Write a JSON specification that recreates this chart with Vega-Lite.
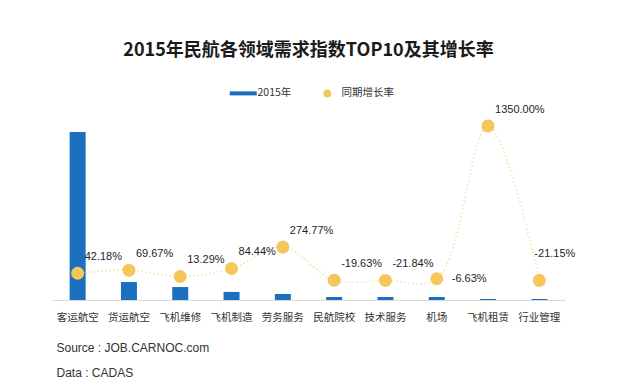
{
  "$schema": "https://vega.github.io/schema/vega-lite/v6.json",
  "width": 513,
  "height": 180,
  "autosize": {"type": "none"},
  "padding": {"left": 52, "top": 120, "right": 75, "bottom": 83},
  "background": "white",
  "title": {
    "text": "2015年民航各领域需求指数TOP10及其增长率",
    "font": "Noto Sans CJK SC",
    "fontSize": 18,
    "fontWeight": "bold",
    "color": "#1a1a1a",
    "anchor": "middle",
    "offset": 28
  },
  "config": {
    "view": {"stroke": null},
    "font": "Liberation Sans, Noto Sans CJK SC",
    "locale": {
      "number": {"decimal": ".", "thousands": ",", "grouping": [3], "currency": ["", ""], "minus": "-"}
    }
  },
  "data": {
    "values": [
      {"cat": "客运航空", "idx": 100, "rate": 0.4218, "s1": "2015年", "s2": "同期增长率"},
      {"cat": "货运航空", "idx": 10.7, "rate": 0.6967, "s1": "2015年", "s2": "同期增长率"},
      {"cat": "飞机维修", "idx": 7.7, "rate": 0.1329, "s1": "2015年", "s2": "同期增长率"},
      {"cat": "飞机制造", "idx": 4.8, "rate": 0.8444, "s1": "2015年", "s2": "同期增长率"},
      {"cat": "劳务服务", "idx": 3.6, "rate": 2.7477, "s1": "2015年", "s2": "同期增长率"},
      {"cat": "民航院校", "idx": 1.8, "rate": -0.1963, "s1": "2015年", "s2": "同期增长率"},
      {"cat": "技术服务", "idx": 1.8, "rate": -0.2184, "s1": "2015年", "s2": "同期增长率"},
      {"cat": "机场", "idx": 1.8, "rate": -0.0663, "s1": "2015年", "s2": "同期增长率"},
      {"cat": "飞机租赁", "idx": 0.6, "rate": 13.5, "s1": "2015年", "s2": "同期增长率"},
      {"cat": "行业管理", "idx": 0.6, "rate": -0.2115, "s1": "2015年", "s2": "同期增长率"}
    ]
  },
  "encoding": {
    "x": {
      "field": "cat",
      "type": "nominal",
      "sort": null,
      "axis": {
        "labelAngle": 0,
        "labelFont": "Noto Sans CJK SC",
        "labelFontSize": 10.5,
        "labelColor": "#333333",
        "labelPadding": 12,
        "ticks": false,
        "domainColor": "#d9d9d9",
        "title": ["Source : JOB.CARNOC.com", "Data : CADAS"],
        "titleFont": "Liberation Sans",
        "titleFontSize": 12,
        "titleFontWeight": "normal",
        "titleColor": "#333333",
        "titleAnchor": "start",
        "titleAlign": "left",
        "titleLineHeight": 25,
        "titlePadding": 20,
        "titleX": 4
      }
    }
  },
  "layer": [
    {
      "mark": {"type": "bar", "size": 16, "color": "#1b6fbf"},
      "encoding": {
        "y": {"field": "idx", "type": "quantitative", "scale": {"domain": [0, 107.1]}, "axis": null},
        "color": {
          "field": "s1",
          "type": "nominal",
          "scale": {"domain": ["2015年", "同期增长率"], "range": ["#1b6fbf", "#f6c65b"]},
          "legend": {
            "orient": "none",
            "legendX": 186,
            "legendY": -32,
            "title": null,
            "direction": "horizontal",
            "labelFont": "Noto Sans CJK SC",
            "labelFontSize": 10.5,
            "labelColor": "#333333",
            "columnPadding": 30,
            "symbolSize": 400,
            "labelOffset": 9,
            "encode": {
              "symbols": {
                "update": {
                  "shape": {"signal": "datum.value === '2015年' ? 'M-1,-0.15H1V0.15H-1Z' : 'circle'"},
                  "size": {"signal": "datum.value === '2015年' ? 729 : 60"}
                }
              }
            }
          }
        }
      }
    },
    {
      "mark": {"type": "line", "interpolate": "catmull-rom", "color": "#f2e2a8", "strokeWidth": 1.6, "strokeDash": [1.5, 2.5]},
      "encoding": {
        "y": {"field": "rate", "type": "quantitative", "scale": {"domain": [-1.954, 14.03]}, "axis": null}
      }
    },
    {
      "mark": {"type": "point", "filled": true, "size": 170, "opacity": 1},
      "encoding": {
        "y": {"field": "rate", "type": "quantitative", "scale": {"domain": [-1.954, 14.03]}, "axis": null},
        "color": {"field": "s2", "type": "nominal"}
      }
    },
    {
      "transform": [{"filter": "datum.cat !== '机场' && datum.cat !== '行业管理'"}],
      "mark": {"type": "text", "align": "left", "dx": 7, "dy": -16, "fontSize": 11, "color": "#262626", "font": "Liberation Sans"},
      "encoding": {
        "y": {"field": "rate", "type": "quantitative", "scale": {"domain": [-1.954, 14.03]}, "axis": null},
        "text": {"field": "rate", "type": "quantitative", "format": ".2%"}
      }
    },
    {
      "transform": [{"filter": "datum.cat === '机场'"}],
      "mark": {"type": "text", "align": "left", "dx": 15, "dy": 0, "fontSize": 11, "color": "#262626", "font": "Liberation Sans"},
      "encoding": {
        "y": {"field": "rate", "type": "quantitative", "scale": {"domain": [-1.954, 14.03]}, "axis": null},
        "text": {"field": "rate", "type": "quantitative", "format": ".2%"}
      }
    },
    {
      "transform": [{"filter": "datum.cat === '行业管理'"}],
      "mark": {"type": "text", "align": "left", "dx": -5, "dy": -26, "fontSize": 11, "color": "#262626", "font": "Liberation Sans"},
      "encoding": {
        "y": {"field": "rate", "type": "quantitative", "scale": {"domain": [-1.954, 14.03]}, "axis": null},
        "text": {"field": "rate", "type": "quantitative", "format": ".2%"}
      }
    }
  ],
  "resolve": {"scale": {"y": "independent"}}
}
